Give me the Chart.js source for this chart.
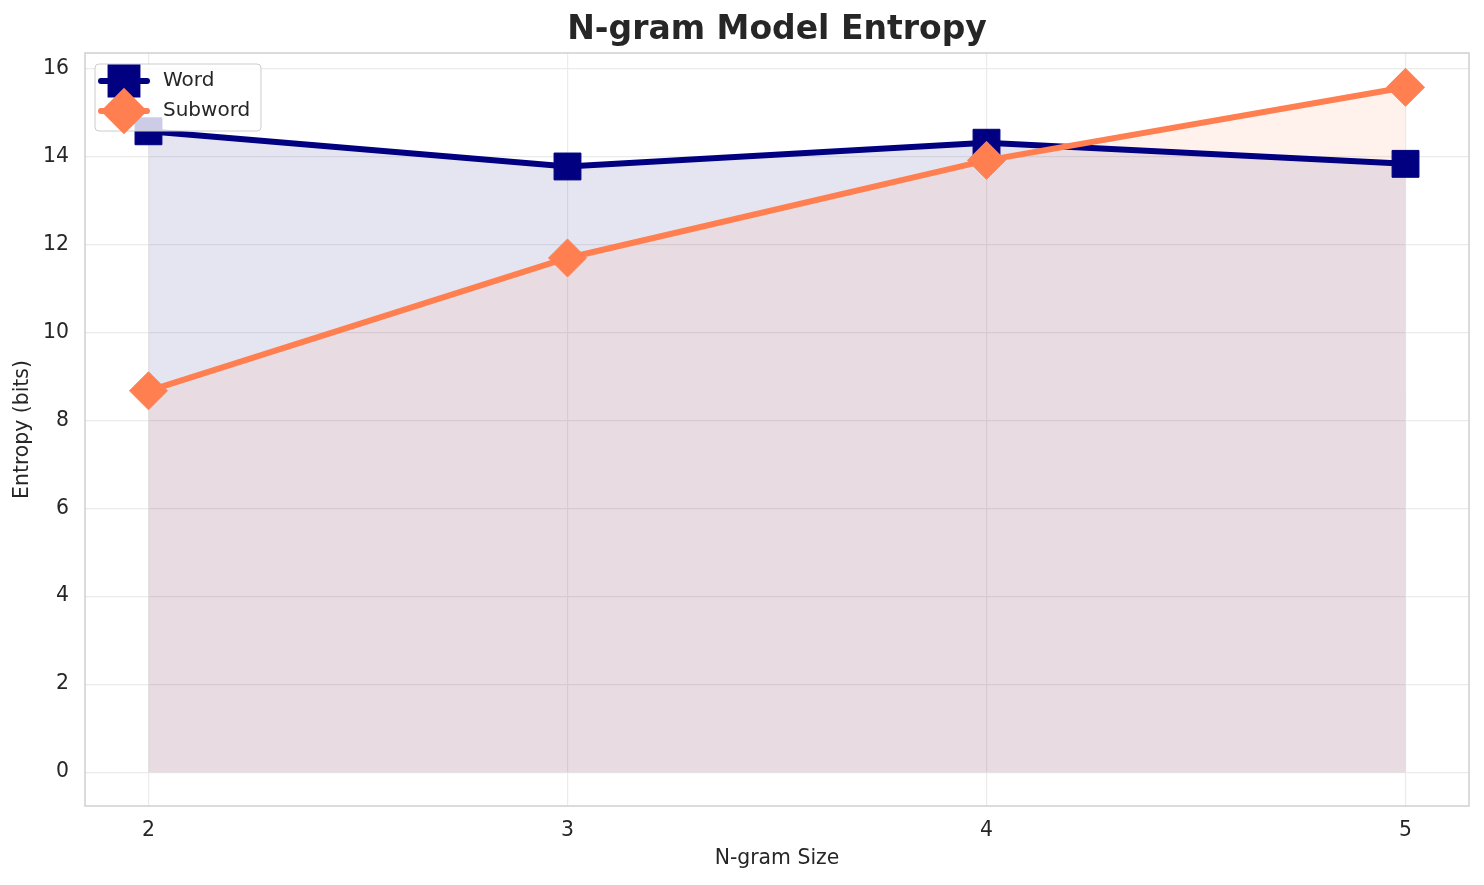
<!DOCTYPE html>
<html>
<head>
<meta charset="utf-8">
<title>N-gram Model Entropy</title>
<script src="https://cdn.jsdelivr.net/npm/chart.js@4.4.1/dist/chart.umd.min.js"></script>
<style>
  html, body { margin: 0; padding: 0; background: #fff; }
  #wrap { width: 1484px; height: 885px; }
</style>
</head>
<body>
<div id="wrap"><canvas id="chart" width="1484" height="885"></canvas></div>
<script>
const ngramSizes = [2, 3, 4, 5];
const wordEntropy = [14.57, 13.77, 14.31, 13.83];
const subwordEntropy = [8.67, 11.69, 13.91, 15.57];
const xTicks = [2, 3, 4, 5];
const yTicks = [0, 2, 4, 6, 8, 10, 12, 14, 16];

const textColor = '#262626';
const family = "'DejaVu Sans', sans-serif";
Chart.defaults.font.family = family;

const toPoints = (vals) => ngramSizes.map((n, i) => ({ x: n, y: vals[i] }));

// axes frame on all four sides, like matplotlib spines
const frame = {
  id: 'frame',
  afterDatasetsDraw(chart) {
    const { ctx, chartArea: a } = chart;
    ctx.save();
    ctx.strokeStyle = '#d0d0d0';
    ctx.lineWidth = 1.5;
    ctx.strokeRect(a.left, a.top, a.right - a.left, a.bottom - a.top);
    ctx.restore();
  }
};

// legend inside the axes, with line + marker handles
const innerLegend = {
  id: 'innerLegend',
  afterDraw(chart) {
    const ctx = chart.ctx;
    const left = 95, top = 64, w = 166, h = 67;
    ctx.save();
    ctx.beginPath();
    ctx.roundRect(left, top, w, h, 4);
    ctx.fillStyle = 'rgba(255,255,255,0.8)';
    ctx.fill();
    ctx.strokeStyle = '#cccccc';
    ctx.lineWidth = 1;
    ctx.stroke();

    chart.data.datasets.forEach((ds, i) => {
      const y = top + 17 + i * 30;
      ctx.strokeStyle = ds.borderColor;
      ctx.lineWidth = ds.borderWidth;
      ctx.lineCap = 'round';
      ctx.beginPath();
      ctx.moveTo(left + 6, y);
      ctx.lineTo(left + 52, y);
      ctx.stroke();
      ctx.fillStyle = ds.pointBackgroundColor;
      ctx.strokeStyle = ds.pointBackgroundColor;
      Chart.helpers.drawPoint(ctx, { pointStyle: ds.pointStyle, radius: ds.pointRadius, borderWidth: 1, rotation: 0 }, left + 29, y);
      ctx.fillStyle = textColor;
      ctx.font = '20px ' + family;
      ctx.textBaseline = 'middle';
      ctx.fillText(ds.label, left + 68, y);
    });
    ctx.restore();
  }
};

new Chart(document.getElementById('chart'), {
  type: 'line',
  data: {
    datasets: [
      {
        label: 'Word',
        data: toPoints(wordEntropy),
        borderColor: '#000080',
        backgroundColor: 'rgba(0, 0, 128, 0.1)',
        fill: 'origin',
        borderWidth: 6,
        pointStyle: 'rect',
        pointRadius: 19,
        pointBackgroundColor: '#000080',
        pointBorderColor: '#000080',
        pointBorderWidth: 1,
        order: 1,
      },
      {
        label: 'Subword',
        data: toPoints(subwordEntropy),
        borderColor: '#ff7f50',
        backgroundColor: 'rgba(255, 127, 80, 0.1)',
        fill: 'origin',
        borderWidth: 6,
        pointStyle: 'rectRot',
        pointRadius: 19,
        pointBackgroundColor: '#ff7f50',
        pointBorderColor: '#ff7f50',
        pointBorderWidth: 1,
        order: 0,
      },
    ],
  },
  options: {
    responsive: false,
    animation: false,
    devicePixelRatio: 1,
    events: [],
    clip: false,
    layout: { autoPadding: false, padding: { left: 0, right: 15, top: 0, bottom: 0 } },
    plugins: {
      legend: { display: false },
      tooltip: { enabled: false },
      filler: { drawTime: 'beforeDatasetsDraw' },
      title: {
        display: true,
        fullSize: false,
        text: 'N-gram Model Entropy',
        color: textColor,
        font: { size: 33, weight: 'bold' },
        padding: { top: 10.5, bottom: 2.9 },
      },
    },
    scales: {
      x: {
        type: 'linear',
        min: 1.8485,
        max: 5.1515,
        afterBuildTicks: (s) => { s.ticks = xTicks.map((v) => ({ value: v })); },
        afterFit: (s) => { s.height = 79; },
        grid: { color: '#ebebeb', lineWidth: 1.2, drawTicks: false },
        border: { display: false },
        ticks: { color: textColor, font: { size: 20.4 }, padding: 12, callback: (v) => String(v) },
        title: {
          display: true,
          text: 'N-gram Size',
          color: textColor,
          font: { size: 20.4 },
          padding: { top: 0, bottom: 14 },
        },
      },
      y: {
        type: 'linear',
        min: -0.77,
        max: 16.35,
        afterBuildTicks: (s) => { s.ticks = yTicks.map((v) => ({ value: v })); },
        afterFit: (s) => { s.width = 85; },
        grid: { color: '#ebebeb', lineWidth: 1.2, drawTicks: false },
        border: { display: false },
        ticks: { color: textColor, font: { size: 20.4 }, padding: 16, callback: (v) => String(v) },
        title: {
          display: true,
          text: 'Entropy (bits)',
          color: textColor,
          font: { size: 20.4 },
          padding: { top: 10, bottom: 0 },
        },
      },
    },
  },
  plugins: [frame, innerLegend],
});
</script>
</body>
</html>
